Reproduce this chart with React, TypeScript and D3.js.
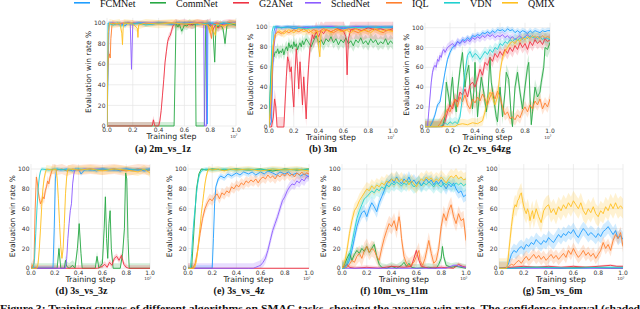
import * as d3 from 'd3';

type Pt = [number, number];

const methods = ['FCMNet', 'CommNet', 'G2ANet', 'SchedNet', 'IQL', 'VDN', 'QMIX'];
const colors = ['#1f9eff', '#27a844', '#ee3344', '#8c5cff', '#ff7f2e', '#20d0d0', '#ffc020'];
const xTicks = [0, 0.2, 0.4, 0.6, 0.8, 1.0];
const yTicks = [0, 20, 40, 60, 80, 100];
const caption =
	'Figure 3: Training curves of different algorithms on SMAC tasks, showing the average win rate. The confidence interval (shaded';

// (a) 2m_vs_1z
const aFCM: Pt[] = [[0,0],[0.01,60],[0.015,98],[0.03,100],[0.06,99],[0.1,100],[0.14,97],[0.16,100],[0.2,99],[0.24,100],[0.3,100],[0.35,99],[0.4,100],[0.45,100],[0.5,99],[0.55,100],[0.6,99],[0.65,100],[0.7,99],[0.74,100],[0.77,99],[0.774,2],[0.778,2],[0.782,99],[0.82,100],[0.86,98],[0.9,100],[0.95,99],[1,100]];
const aComm: Pt[] = [[0,0],[0.52,0],[0.535,100],[0.55,96],[0.56,99],[0.58,92],[0.6,98],[0.62,97],[0.64,100],[0.66,98],[0.685,99],[0.69,0],[0.755,0],[0.765,98],[0.78,100],[0.8,97],[0.82,96],[0.835,62],[0.845,98],[0.86,96],[0.88,99],[0.9,94],[0.915,80],[0.93,98],[0.96,99],[1,98]];
const aG2A: Pt[] = [[0,0],[0.35,0],[0.36,6],[0.37,0],[0.4,0],[0.41,5],[0.42,15],[0.43,30],[0.44,45],[0.45,62],[0.46,72],[0.47,82],[0.48,86],[0.49,88],[0.5,92],[0.51,97],[0.53,100],[0.56,99],[0.6,100],[0.65,98],[0.7,100],[0.75,99],[0.8,100],[0.82,93],[0.84,98],[0.86,95],[0.9,99],[0.95,100],[1,99]];
const aSched: Pt[] = [[0,0],[0.005,50],[0.015,100],[0.05,100],[0.1,99],[0.15,100],[0.18,100],[0.19,55],[0.2,100],[0.3,100],[0.4,100],[0.5,99],[0.6,100],[0.7,100],[0.75,100],[0.755,0],[0.77,0],[0.775,100],[0.8,99],[0.85,100],[0.9,99],[1,100]];
const aIQL: Pt[] = [[0,0],[0.005,55],[0.01,65],[0.02,70],[0.025,66],[0.03,85],[0.04,100],[0.08,99],[0.12,100],[0.2,100],[0.3,99],[0.4,100],[0.5,100],[0.6,99],[0.7,100],[0.78,100],[0.8,92],[0.81,85],[0.82,99],[0.86,100],[0.9,97],[0.95,100],[1,99]];
const aVDN: Pt[] = [[0,0],[0.008,100],[0.05,98],[0.08,100],[0.11,97],[0.14,100],[0.2,99],[0.25,100],[0.3,98],[0.4,100],[0.5,99],[0.6,100],[0.7,99],[0.8,100],[0.85,98],[0.9,100],[1,99]];
const aQMIX: Pt[] = [[0,0],[0.01,90],[0.02,100],[0.05,99],[0.1,100],[0.115,90],[0.12,79],[0.125,95],[0.13,100],[0.2,99],[0.235,95],[0.24,86],[0.245,98],[0.3,100],[0.4,99],[0.5,100],[0.6,99],[0.7,100],[0.78,98],[0.8,90],[0.81,97],[0.84,88],[0.85,99],[0.9,97],[1,100]];
const ciA = [2, 4, 4, 2, 3, 2, 4];

// (b) 3m
const bFCM: Pt[] = [[0,0],[0.02,5],[0.03,60],[0.04,95],[0.05,100],[0.1,99],[0.15,100],[0.2,98],[0.3,100],[0.4,99],[0.5,100],[0.6,98],[0.7,100],[0.8,99],[0.9,100],[1,99]];
const bComm: Pt[] = [[0,0],[0.01,40],[0.02,62],[0.03,72],[0.04,70],[0.05,75],[0.06,74],[0.07,78],[0.08,73],[0.09,76],[0.1,74],[0.11,78],[0.12,72],[0.13,77],[0.14,80],[0.15,76],[0.16,84],[0.17,79],[0.18,82],[0.19,78],[0.2,85],[0.21,80],[0.22,83],[0.23,77],[0.24,81],[0.25,84],[0.26,80],[0.27,86],[0.28,82],[0.3,88],[0.32,84],[0.34,80],[0.36,86],[0.38,91],[0.4,84],[0.42,87],[0.44,82],[0.46,88],[0.48,85],[0.5,90],[0.52,84],[0.54,88],[0.56,82],[0.58,87],[0.6,84],[0.62,89],[0.64,83],[0.66,86],[0.68,81],[0.7,87],[0.72,84],[0.74,89],[0.76,83],[0.78,86],[0.8,82],[0.82,88],[0.84,84],[0.86,87],[0.88,82],[0.9,85],[0.92,83],[0.94,88],[0.96,82],[0.98,86],[1,83]];
const bG2A: Pt[] = [[0,0],[0.02,0],[0.035,10],[0.045,28],[0.055,20],[0.065,0],[0.12,0],[0.13,25],[0.14,50],[0.15,70],[0.16,65],[0.17,55],[0.18,60],[0.19,35],[0.2,20],[0.21,55],[0.22,78],[0.23,60],[0.24,38],[0.25,65],[0.26,45],[0.27,22],[0.28,50],[0.29,30],[0.3,8],[0.31,40],[0.32,62],[0.33,78],[0.34,85],[0.35,92],[0.36,88],[0.38,95],[0.4,90],[0.42,96],[0.44,93],[0.46,97],[0.5,95],[0.55,98],[0.6,96],[0.62,90],[0.63,52],[0.64,88],[0.66,97],[0.7,98],[0.75,96],[0.8,99],[0.85,97],[0.9,98],[0.95,96],[1,98]];
const bSched: Pt[] = [[0,0],[0.02,20],[0.03,60],[0.04,80],[0.05,90],[0.06,100],[0.1,99],[0.2,100],[0.3,99],[0.4,100],[0.5,100],[0.6,99],[0.7,100],[0.8,100],[0.9,99],[1,100]];
const bIQL: Pt[] = [[0,0],[0.02,30],[0.03,70],[0.04,85],[0.05,92],[0.07,95],[0.1,93],[0.13,96],[0.16,94],[0.2,97],[0.24,95],[0.28,98],[0.32,94],[0.36,97],[0.4,95],[0.44,98],[0.48,96],[0.52,94],[0.56,97],[0.6,95],[0.64,98],[0.68,96],[0.72,94],[0.76,97],[0.8,95],[0.84,98],[0.88,96],[0.92,94],[0.96,97],[1,96]];
const bVDN: Pt[] = [[0,0],[0.015,50],[0.025,95],[0.035,100],[0.1,99],[0.2,100],[0.3,98],[0.4,100],[0.5,99],[0.6,100],[0.7,99],[0.8,100],[0.9,99],[1,100]];
const bQMIX: Pt[] = [[0,0],[0.02,40],[0.03,80],[0.05,92],[0.08,96],[0.12,93],[0.16,97],[0.2,94],[0.24,98],[0.28,95],[0.32,97],[0.36,93],[0.39,96],[0.4,80],[0.41,70],[0.42,95],[0.46,97],[0.5,94],[0.54,98],[0.58,95],[0.62,97],[0.66,94],[0.7,98],[0.74,95],[0.78,97],[0.82,94],[0.86,98],[0.9,95],[0.94,97],[1,95]];
const ciB = [2, 6, 10, 2, 3, 2, 4];

// (c) 2c_vs_64zg
const cFCM: Pt[] = [[0,0],[0.04,0],[0.06,5],[0.08,12],[0.1,22],[0.12,25],[0.14,40],[0.16,55],[0.18,68],[0.2,75],[0.22,80],[0.24,82],[0.26,86],[0.28,84],[0.3,88],[0.32,87],[0.34,90],[0.36,88],[0.38,92],[0.4,91],[0.42,93],[0.44,92],[0.46,95],[0.48,94],[0.5,96],[0.52,94],[0.54,97],[0.56,95],[0.58,98],[0.6,97],[0.62,98],[0.64,96],[0.66,99],[0.68,97],[0.7,98],[0.72,95],[0.74,97],[0.76,95],[0.78,97],[0.8,96],[0.82,94],[0.84,97],[0.86,95],[0.88,97],[0.9,96],[0.92,95],[0.94,97],[0.96,96],[0.98,97],[1,97]];
const cComm: Pt[] = [[0,0],[0.14,0],[0.16,10],[0.17,45],[0.19,30],[0.2,20],[0.21,40],[0.22,50],[0.23,30],[0.25,15],[0.26,35],[0.28,58],[0.3,75],[0.31,55],[0.32,40],[0.33,52],[0.35,62],[0.36,40],[0.38,18],[0.39,35],[0.4,65],[0.41,40],[0.42,10],[0.43,25],[0.45,50],[0.47,35],[0.49,15],[0.5,25],[0.52,70],[0.53,45],[0.55,28],[0.57,10],[0.58,5],[0.6,40],[0.61,25],[0.62,10],[0.64,35],[0.65,55],[0.67,48],[0.69,10],[0.7,0],[0.71,20],[0.72,40],[0.74,55],[0.76,35],[0.78,18],[0.8,40],[0.82,60],[0.83,65],[0.84,30],[0.85,2],[0.86,15],[0.88,40],[0.9,30],[0.92,35],[0.93,45],[0.95,60],[0.96,80],[0.98,78],[1,85]];
const cG2A: Pt[] = [[0,0],[0.14,0],[0.16,5],[0.18,15],[0.2,22],[0.22,18],[0.24,28],[0.26,25],[0.28,35],[0.3,32],[0.32,38],[0.34,30],[0.36,42],[0.38,45],[0.4,40],[0.42,48],[0.44,58],[0.46,52],[0.48,65],[0.5,62],[0.52,70],[0.54,66],[0.56,74],[0.58,70],[0.6,76],[0.62,72],[0.64,78],[0.66,74],[0.68,80],[0.7,76],[0.72,82],[0.74,78],[0.76,85],[0.78,80],[0.8,84],[0.82,78],[0.84,86],[0.86,82],[0.88,88],[0.9,84],[0.92,87],[0.94,83],[0.96,89],[0.98,86],[1,88]];
const cSched: Pt[] = [[0,0],[0.02,0],[0.03,15],[0.04,30],[0.05,45],[0.06,55],[0.07,60],[0.08,62],[0.09,60],[0.1,68],[0.11,66],[0.12,72],[0.13,70],[0.14,76],[0.15,78],[0.16,75],[0.18,80],[0.2,82],[0.22,84],[0.24,81],[0.26,86],[0.28,84],[0.3,87],[0.32,85],[0.34,88],[0.36,86],[0.38,90],[0.4,88],[0.42,91],[0.44,89],[0.46,92],[0.48,90],[0.5,93],[0.52,91],[0.54,93],[0.56,90],[0.58,92],[0.6,91],[0.62,93],[0.64,90],[0.66,92],[0.68,89],[0.7,91],[0.72,88],[0.74,90],[0.76,92],[0.78,89],[0.8,91],[0.82,93],[0.84,90],[0.86,92],[0.88,89],[0.9,91],[0.92,90],[0.94,92],[0.96,89],[0.98,91],[1,90]];
const cIQL: Pt[] = [[0,0],[0.1,0],[0.12,3],[0.14,8],[0.16,12],[0.18,18],[0.2,15],[0.22,22],[0.24,28],[0.26,20],[0.28,30],[0.3,25],[0.32,32],[0.34,22],[0.36,18],[0.38,28],[0.4,24],[0.42,30],[0.44,26],[0.46,33],[0.48,28],[0.5,22],[0.52,30],[0.54,35],[0.56,28],[0.58,36],[0.6,30],[0.62,20],[0.64,12],[0.66,15],[0.68,8],[0.7,10],[0.72,7],[0.74,12],[0.76,9],[0.78,16],[0.8,20],[0.82,15],[0.84,22],[0.86,18],[0.88,26],[0.9,22],[0.92,28],[0.94,18],[0.96,24],[0.98,20],[1,28]];
const cVDN: Pt[] = [[0,0],[0.12,0],[0.14,2],[0.16,4],[0.18,2],[0.2,5],[0.22,3],[0.24,5],[0.26,3],[0.28,10],[0.3,30],[0.32,55],[0.34,72],[0.36,76],[0.38,70],[0.4,74],[0.42,72],[0.44,68],[0.46,72],[0.48,76],[0.5,73],[0.52,78],[0.54,75],[0.56,80],[0.58,78],[0.6,84],[0.62,82],[0.64,86],[0.66,84],[0.68,88],[0.7,86],[0.72,89],[0.74,87],[0.76,90],[0.78,88],[0.8,91],[0.82,89],[0.84,92],[0.86,90],[0.88,91],[0.9,89],[0.92,91],[0.94,88],[0.96,90],[0.98,89],[1,88]];
const cQMIX: Pt[] = [[0,0],[0.24,0],[0.26,2],[0.3,3],[0.34,2],[0.38,4],[0.42,3],[0.46,6],[0.48,15],[0.5,28],[0.52,35],[0.54,30],[0.56,22],[0.58,30],[0.6,55],[0.62,70],[0.64,76],[0.66,80],[0.68,84],[0.7,86],[0.72,84],[0.74,88],[0.76,86],[0.78,90],[0.8,88],[0.82,91],[0.84,89],[0.86,92],[0.88,90],[0.9,91],[0.92,89],[0.94,92],[0.96,90],[0.98,91],[1,90]];
const ciC = [3, 8, 6, 4, 6, 5, 5];

// (d) 3s_vs_3z
const dFCM: Pt[] = [[0,0],[0.185,0],[0.195,40],[0.205,90],[0.215,100],[0.25,99],[0.3,100],[0.35,98],[0.4,100],[0.42,95],[0.45,99],[0.5,100],[0.55,98],[0.6,100],[0.65,99],[0.7,100],[0.75,98],[0.8,100],[0.85,99],[0.9,100],[0.95,98],[1,99]];
const dComm: Pt[] = [[0,0],[0.22,0],[0.235,20],[0.25,0],[0.28,0],[0.29,8],[0.3,2],[0.32,0],[0.35,3],[0.37,0],[0.39,20],[0.405,45],[0.42,15],[0.43,0],[0.54,0],[0.555,12],[0.57,0],[0.6,5],[0.615,40],[0.625,72],[0.635,30],[0.645,10],[0.655,45],[0.665,58],[0.675,20],[0.69,0],[0.75,0],[0.77,15],[0.785,40],[0.795,96],[0.805,90],[0.815,30],[0.825,0],[1,0]];
const dG2A: Pt[] = [[0,0],[0.56,0],[0.6,2],[0.62,4],[0.64,1],[0.66,6],[0.68,3],[0.7,10],[0.72,12],[0.74,8],[0.76,13],[0.78,4],[0.8,1],[0.82,0],[1,0]];
const dSched: Pt[] = [[0,0],[0.29,0],[0.3,10],[0.31,30],[0.32,45],[0.33,58],[0.34,65],[0.35,85],[0.36,95],[0.37,100],[0.4,99],[0.45,100],[0.5,99],[0.55,100],[0.6,100],[0.7,99],[0.8,100],[0.9,99],[1,100]];
const dIQL: Pt[] = [[0,0],[0.025,5],[0.035,60],[0.045,92],[0.055,85],[0.06,78],[0.07,70],[0.08,65],[0.09,68],[0.1,72],[0.11,70],[0.12,78],[0.13,82],[0.14,88],[0.15,85],[0.16,92],[0.17,96],[0.18,100],[0.22,99],[0.26,100],[0.3,98],[0.35,100],[0.4,99],[0.5,100],[0.6,99],[0.7,100],[0.8,98],[0.9,100],[1,99]];
const dVDN: Pt[] = [[0,0],[0.02,0],[0.03,10],[0.04,35],[0.05,60],[0.06,80],[0.07,92],[0.08,98],[0.09,100],[0.15,99],[0.2,100],[0.3,99],[0.4,100],[0.5,99],[0.6,100],[0.7,99],[0.8,100],[0.9,99],[1,100]];
const dQMIX: Pt[] = [[0,0],[0.05,0],[0.06,5],[0.07,20],[0.08,40],[0.09,62],[0.1,80],[0.11,90],[0.12,96],[0.13,100],[0.18,99],[0.21,100],[0.22,90],[0.23,70],[0.24,45],[0.25,22],[0.26,10],[0.27,20],[0.28,45],[0.29,75],[0.3,92],[0.31,100],[0.4,99],[0.5,100],[0.6,98],[0.7,100],[0.8,99],[0.9,97],[0.95,100],[1,96]];
const ciD = [2, 5, 3, 2, 5, 2, 4];

// (e) 3s_vs_4z
const eFCM: Pt[] = [[0,0],[0.2,0],[0.21,30],[0.22,65],[0.23,82],[0.25,90],[0.27,93],[0.3,91],[0.33,95],[0.36,93],[0.4,96],[0.43,94],[0.46,97],[0.5,95],[0.53,97],[0.56,94],[0.6,97],[0.63,95],[0.66,98],[0.7,96],[0.73,94],[0.76,97],[0.8,95],[0.83,97],[0.86,94],[0.9,96],[0.93,93],[0.96,95],[1,92]];
const eComm: Pt[] = [[0,0],[0.03,0],[0.05,40],[0.07,80],[0.09,95],[0.11,100],[0.15,99],[0.2,100],[0.3,99],[0.4,100],[0.5,99],[0.6,100],[0.7,98],[0.8,100],[0.9,99],[1,100]];
const eG2A: Pt[] = [[0,0],[0.5,0],[1,0]];
const eSched: Pt[] = [[0,0],[0.54,0],[0.56,1],[0.58,2],[0.6,3],[0.62,6],[0.64,10],[0.66,18],[0.68,28],[0.7,38],[0.72,45],[0.74,52],[0.76,60],[0.78,68],[0.8,72],[0.82,78],[0.84,82],[0.86,85],[0.88,84],[0.9,88],[0.92,86],[0.94,90],[0.96,88],[0.98,92],[1,93]];
const eIQL: Pt[] = [[0,0],[0.04,0],[0.06,5],[0.08,18],[0.1,35],[0.12,50],[0.14,60],[0.16,66],[0.18,70],[0.2,68],[0.22,72],[0.24,75],[0.26,70],[0.28,76],[0.3,74],[0.32,78],[0.34,76],[0.36,82],[0.38,80],[0.4,84],[0.42,82],[0.44,86],[0.46,84],[0.48,88],[0.5,86],[0.52,89],[0.54,87],[0.56,90],[0.58,86],[0.6,90],[0.62,92],[0.64,90],[0.66,94],[0.68,91],[0.7,93],[0.72,90],[0.74,94],[0.76,92],[0.78,95],[0.8,93],[0.82,96],[0.84,93],[0.86,95],[0.88,92],[0.9,96],[0.92,94],[0.94,97],[0.96,94],[0.98,96],[1,95]];
const eVDN: Pt[] = [[0,0],[0.02,0],[0.03,15],[0.04,35],[0.05,50],[0.06,62],[0.07,75],[0.08,85],[0.09,92],[0.1,96],[0.12,99],[0.15,100],[0.2,99],[0.3,100],[0.4,99],[0.5,100],[0.6,99],[0.7,100],[0.8,99],[0.9,100],[1,99]];
const eQMIX: Pt[] = [[0,0],[0.05,0],[0.06,3],[0.07,8],[0.08,18],[0.09,30],[0.1,42],[0.11,55],[0.12,65],[0.13,75],[0.14,85],[0.15,92],[0.16,97],[0.17,100],[0.2,99],[0.25,100],[0.3,98],[0.35,100],[0.4,99],[0.5,100],[0.6,98],[0.7,100],[0.8,99],[0.9,100],[1,98]];
const ciE = [3, 1, 0.5, 5, 5, 2, 3];

// (f) 10m_vs_11m
const fFCM: Pt[] = [[0,0],[0.02,0],[0.04,3],[0.06,8],[0.08,18],[0.1,30],[0.12,42],[0.14,50],[0.16,56],[0.18,58],[0.2,52],[0.22,60],[0.24,66],[0.26,62],[0.28,57],[0.3,66],[0.32,72],[0.34,78],[0.36,85],[0.38,88],[0.4,90],[0.42,86],[0.44,92],[0.46,88],[0.48,85],[0.5,90],[0.52,87],[0.54,92],[0.56,86],[0.58,89],[0.6,85],[0.62,88],[0.64,83],[0.66,87],[0.68,90],[0.7,86],[0.72,89],[0.74,84],[0.76,88],[0.78,85],[0.8,89],[0.82,84],[0.84,80],[0.86,85],[0.88,82],[0.9,86],[0.92,80],[0.94,76],[0.96,78],[0.98,72],[1,74]];
const fComm: Pt[] = [[0,0],[0.02,4],[0.04,10],[0.06,15],[0.08,8],[0.1,14],[0.12,18],[0.14,15],[0.16,20],[0.18,17],[0.2,22],[0.22,16],[0.24,20],[0.26,24],[0.28,12],[0.3,4],[0.32,1],[0.36,0],[0.4,2],[0.44,0],[0.48,3],[0.5,6],[0.52,2],[0.54,5],[0.56,1],[0.6,0],[0.7,1],[0.76,0],[0.78,4],[0.8,10],[0.81,22],[0.82,12],[0.84,3],[0.88,1],[0.92,2],[1,0]];
const fG2A: Pt[] = [[0,0],[0.02,2],[0.04,4],[0.06,1],[0.1,0],[0.2,1],[0.3,0],[0.4,2],[0.5,1],[0.56,2],[0.58,10],[0.6,18],[0.62,8],[0.64,2],[0.7,0],[0.8,1],[0.9,0],[0.94,4],[0.97,2],[1,1]];
const fSched: Pt[] = [[0,0],[0.84,0],[0.86,1],[0.88,2],[0.9,3],[0.92,3],[0.94,2],[0.96,2],[0.98,1],[1,1]];
const fIQL: Pt[] = [[0,0],[0.04,1],[0.06,4],[0.08,8],[0.1,6],[0.12,12],[0.14,15],[0.16,10],[0.18,18],[0.2,22],[0.22,16],[0.24,20],[0.26,18],[0.28,12],[0.3,8],[0.32,20],[0.34,30],[0.36,38],[0.38,45],[0.4,42],[0.42,48],[0.44,38],[0.46,52],[0.47,45],[0.48,30],[0.5,12],[0.52,5],[0.54,2],[0.56,4],[0.58,6],[0.6,12],[0.62,18],[0.63,8],[0.65,3],[0.67,10],[0.69,22],[0.7,28],[0.72,15],[0.74,5],[0.76,8],[0.78,20],[0.8,42],[0.82,55],[0.84,48],[0.86,58],[0.88,64],[0.9,52],[0.92,45],[0.94,55],[0.96,48],[0.98,50],[1,28]];
const fVDN: Pt[] = [[0,0],[0.02,0],[0.04,5],[0.06,12],[0.08,25],[0.1,38],[0.12,50],[0.14,58],[0.16,64],[0.18,70],[0.2,72],[0.22,75],[0.24,78],[0.26,76],[0.28,80],[0.3,78],[0.32,82],[0.34,80],[0.36,84],[0.38,82],[0.4,86],[0.42,84],[0.44,87],[0.46,85],[0.48,83],[0.5,86],[0.52,84],[0.54,88],[0.56,85],[0.58,82],[0.6,84],[0.62,86],[0.64,83],[0.66,86],[0.68,84],[0.7,87],[0.72,85],[0.74,82],[0.76,86],[0.78,84],[0.8,82],[0.82,86],[0.84,84],[0.86,87],[0.88,85],[0.9,83],[0.92,86],[0.94,84],[0.96,86],[0.98,83],[1,85]];
const fQMIX: Pt[] = [[0,0],[0.02,5],[0.04,18],[0.06,35],[0.08,48],[0.1,58],[0.12,62],[0.14,68],[0.16,72],[0.18,76],[0.2,80],[0.22,78],[0.24,83],[0.26,80],[0.28,84],[0.3,82],[0.32,86],[0.34,84],[0.36,88],[0.38,86],[0.4,90],[0.42,88],[0.44,91],[0.46,87],[0.48,90],[0.5,86],[0.52,89],[0.54,84],[0.56,88],[0.58,85],[0.6,82],[0.62,87],[0.64,90],[0.66,88],[0.68,92],[0.7,89],[0.72,91],[0.74,87],[0.76,90],[0.78,88],[0.8,92],[0.82,89],[0.84,86],[0.86,90],[0.88,93],[0.9,91],[0.92,94],[0.94,90],[0.96,92],[0.98,89],[1,90]];
const ciF = [6, 4, 2, 1, 8, 7, 7];

// (g) 5m_vs_6m
const gFCM: Pt[] = [[0,0],[0.06,0],[0.07,3],[0.08,6],[0.09,10],[0.1,14],[0.12,18],[0.14,16],[0.16,20],[0.18,22],[0.2,19],[0.22,24],[0.24,22],[0.26,26],[0.28,24],[0.3,29],[0.32,26],[0.34,24],[0.36,28],[0.38,26],[0.4,31],[0.42,28],[0.44,26],[0.46,30],[0.48,34],[0.5,31],[0.52,35],[0.54,33],[0.56,37],[0.58,35],[0.6,39],[0.62,34],[0.64,31],[0.66,36],[0.68,40],[0.7,37],[0.72,33],[0.74,36],[0.76,34],[0.78,31],[0.8,35],[0.82,32],[0.84,37],[0.86,39],[0.88,42],[0.9,38],[0.92,34],[0.94,38],[0.96,30],[0.98,33],[1,29]];
const gComm: Pt[] = [[0,0],[0.1,0],[0.3,1],[0.5,0],[0.7,1],[0.9,0],[1,0]];
const gG2A: Pt[] = [[0,0],[0.1,1],[0.2,2],[0.3,1],[0.4,2],[0.5,1],[0.6,2],[0.7,1],[0.8,2],[0.9,3],[0.95,2],[1,2]];
const gSched: Pt[] = [[0,0],[0.5,0],[1,0]];
const gIQL: Pt[] = [[0,0],[0.06,0],[0.08,2],[0.1,4],[0.12,3],[0.14,6],[0.16,8],[0.18,5],[0.2,9],[0.22,12],[0.24,8],[0.26,11],[0.28,14],[0.3,10],[0.32,13],[0.34,9],[0.36,12],[0.38,8],[0.4,11],[0.42,14],[0.44,10],[0.46,13],[0.48,9],[0.5,12],[0.52,15],[0.54,11],[0.56,18],[0.58,14],[0.6,20],[0.62,15],[0.64,11],[0.66,14],[0.68,18],[0.7,13],[0.72,16],[0.74,12],[0.76,15],[0.78,10],[0.8,14],[0.82,18],[0.84,26],[0.86,20],[0.88,24],[0.9,18],[0.92,28],[0.94,34],[0.96,30],[0.98,36],[1,22]];
const gVDN: Pt[] = [[0,0],[0.1,0],[0.2,1],[0.4,1],[0.6,0],[0.8,1],[1,1]];
const gQMIX: Pt[] = [[0,0],[0.06,0],[0.07,5],[0.08,18],[0.09,30],[0.1,42],[0.11,52],[0.12,60],[0.13,64],[0.14,62],[0.15,68],[0.16,70],[0.17,74],[0.18,76],[0.19,68],[0.2,62],[0.21,58],[0.22,55],[0.23,60],[0.24,56],[0.25,48],[0.26,54],[0.27,58],[0.28,50],[0.3,60],[0.32,52],[0.34,46],[0.36,58],[0.38,62],[0.4,64],[0.42,56],[0.44,60],[0.46,54],[0.48,62],[0.5,58],[0.52,64],[0.54,60],[0.56,66],[0.58,62],[0.6,68],[0.62,64],[0.64,60],[0.66,66],[0.68,58],[0.7,54],[0.72,60],[0.74,56],[0.76,62],[0.78,55],[0.8,52],[0.82,58],[0.84,55],[0.86,62],[0.88,58],[0.9,65],[0.92,60],[0.94,66],[0.96,60],[0.98,63],[1,60]];
const ciG = [7, 1, 1, 0.5, 6, 1, 10];

// layout of the seven axes
const panels = [
	{ title: '(a) 2m_vs_1z', series: [aFCM, aComm, aG2A, aSched, aIQL, aVDN, aQMIX], ci: ciA, x0: 107, x1: 236, y0: 126, y100: 23, tx: 163, ty: 152 },
	{ title: '(b) 3m', series: [bFCM, bComm, bG2A, bSched, bIQL, bVDN, bQMIX], ci: ciB, x0: 269, x1: 393, y0: 127, y100: 26.7, tx: 323, ty: 152 },
	{ title: '(c) 2c_vs_64zg', series: [cFCM, cComm, cG2A, cSched, cIQL, cVDN, cQMIX], ci: ciC, x0: 425, x1: 550, y0: 126.7, y100: 27.7, tx: 480, ty: 152 },
	{ title: '(d) 3s_vs_3z', series: [dFCM, dComm, dG2A, dSched, dIQL, dVDN, dQMIX], ci: ciD, x0: 31, x1: 150, y0: 268.3, y100: 169, tx: 81.5, ty: 294 },
	{ title: '(e) 3s_vs_4z', series: [eFCM, eComm, eG2A, eSched, eIQL, eVDN, eQMIX], ci: ciE, x0: 188, x1: 309, y0: 268.3, y100: 169, tx: 239, ty: 294 },
	{ title: '(f) 10m_vs_11m', series: [fFCM, fComm, fG2A, fSched, fIQL, fVDN, fQMIX], ci: ciF, x0: 342, x1: 466, y0: 268.3, y100: 169, tx: 394, ty: 294 },
	{ title: '(g) 5m_vs_6m', series: [gFCM, gComm, gG2A, gSched, gIQL, gVDN, gQMIX], ci: ciG, x0: 499, x1: 623, y0: 268.3, y100: 169, tx: 552.5, ty: 294 },
];

const legendX = [74, 150, 233, 305, 386, 444, 502];

const sans = 'DejaVu Sans, sans-serif';
const serif = 'Liberation Serif, Times New Roman, serif';

function Panel({ p, idx }: { p: (typeof panels)[number]; idx: number }) {
	const x = d3.scaleLinear().domain([0, 1]).range([p.x0, p.x1]);
	const y = d3.scaleLinear().domain([0, 100]).range([p.y0, p.y100]);
	const top = y(105);
	const clipId = `clip-${idx}`;

	const line = d3
		.line<Pt>()
		.x((d) => x(d[0]))
		.y((d) => y(d[1]));

	return (
		<g>
			<clipPath id={clipId}>
				<rect x={p.x0} y={top} width={p.x1 - p.x0} height={p.y0 - top + 1} />
			</clipPath>

			{/* grid */}
			{xTicks.map((t) => (
				<line key={'gx' + t} x1={x(t)} x2={x(t)} y1={p.y0} y2={top} stroke='#e5e5e5' strokeWidth={0.7} />
			))}
			{yTicks.map((t) => (
				<line key={'gy' + t} x1={p.x0} x2={p.x1} y1={y(t)} y2={y(t)} stroke='#e5e5e5' strokeWidth={0.7} />
			))}

			<g clipPath={`url(#${clipId})`}>
				{p.series.map((s, i) => {
					const band = d3
						.area<Pt>()
						.x((d) => x(d[0]))
						.y0((d) => y(Math.max(0, d[1] - p.ci[i])))
						.y1((d) => y(d[1] + p.ci[i]));
					return <path key={'b' + i} d={band(s) || ''} fill={colors[i]} opacity={0.2} />;
				})}
				{p.series.map((s, i) => (
					<path key={'l' + i} d={line(s) || ''} fill='none' stroke={colors[i]} strokeWidth={0.9} strokeLinejoin='round' />
				))}
			</g>

			{/* tick labels */}
			{xTicks.map((t) => (
				<text key={'tx' + t} x={x(t)} y={p.y0 + 6.2} fontSize={6} fontFamily={sans} fill='#333' textAnchor='middle'>
					{t.toFixed(1)}
				</text>
			))}
			{yTicks.map((t) => (
				<text key={'ty' + t} x={p.x0 - 1.5} y={y(t) + 2.1} fontSize={6} fontFamily={sans} fill='#333' textAnchor='end'>
					{t}
				</text>
			))}
			<text x={p.x1 + 1.5} y={p.y0 + 12} fontSize={4.2} fontFamily={sans} fill='#333' textAnchor='end'>
				10<tspan dy={-1.6} fontSize={3}>7</tspan>
			</text>

			{/* axis labels */}
			<text x={(p.x0 + p.x1) / 2} y={p.y0 + 13.3} fontSize={7.8} fontFamily={sans} fill='#222' textAnchor='middle'>
				Training step
			</text>
			<text
				transform={`translate(${p.x0 - 16.3},${(p.y0 + top) / 2}) rotate(-90)`}
				fontSize={7.5}
				fontFamily={sans}
				fill='#222'
				textAnchor='middle'>
				Evaluation win rate %
			</text>

			<text x={p.tx} y={p.ty} fontSize={10} fontFamily={serif} fontWeight='bold' fill='#111' textAnchor='middle'>
				{p.title}
			</text>
		</g>
	);
}

export default function App() {
	return (
		<svg width={640} height={309} style={{ position: 'absolute', left: 0, top: 0, background: 'white' }}>
			{/* legend */}
			{methods.map((m, i) => (
				<g key={m}>
					<line x1={legendX[i]} x2={legendX[i] + 16} y1={2.8} y2={2.8} stroke={colors[i]} strokeWidth={1.6} />
					<text x={legendX[i] + 26} y={7} fontSize={10} fontFamily={serif} fill='#111'>
						{m}
					</text>
				</g>
			))}

			{panels.map((p, i) => (
				<Panel key={p.title} p={p} idx={i} />
			))}

			<text x={0} y={311.5} fontSize={11.3} fontFamily={serif} fontWeight='bold' fill='#111' textLength={640} lengthAdjust='spacingAndGlyphs'>
				{caption}
			</text>
		</svg>
	);
}
